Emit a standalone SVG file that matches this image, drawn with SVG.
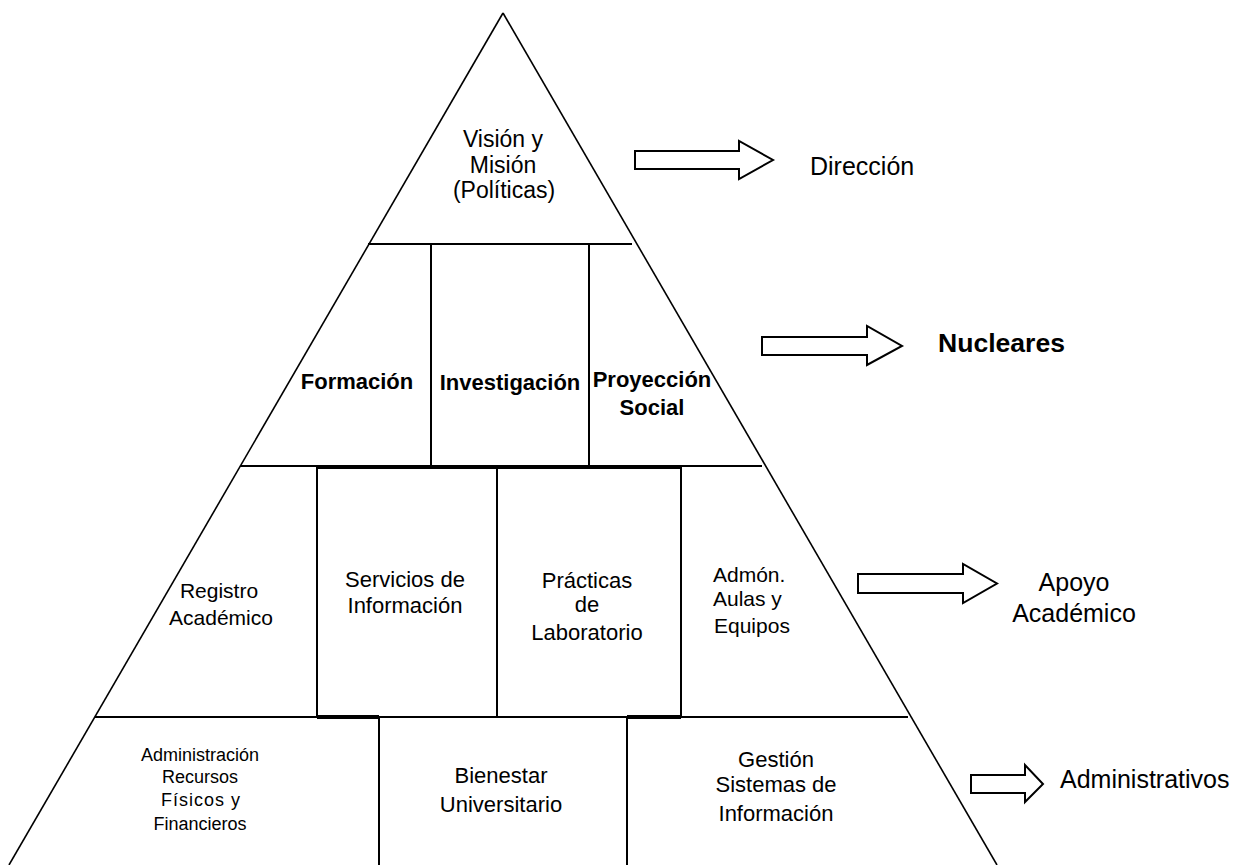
<svg xmlns="http://www.w3.org/2000/svg" width="1247" height="865" viewBox="0 0 1247 865">
<style>
.t{font-family:"Liberation Sans",Arial,sans-serif;fill:#000;text-anchor:middle}
.s{text-anchor:start}
.b{font-weight:bold}
.ln{stroke:#000;stroke-width:2;fill:none}
.side{stroke:#000;stroke-width:1.6;fill:none}
.bold{stroke:#000;stroke-width:4;fill:none}
.arr{fill:#fff;stroke:#000;stroke-width:2;stroke-linejoin:miter}
</style>
<rect width="1247" height="865" fill="#fff"/>
<g id="pyramid">
<line class="side" x1="503" y1="13" x2="9" y2="865"/>
<line class="side" x1="503" y1="13" x2="997" y2="865"/>
<line class="ln" x1="368" y1="244" x2="632" y2="244"/>
<line class="ln" x1="240" y1="466" x2="762" y2="466"/>
<line class="ln" x1="95" y1="717" x2="908" y2="717"/>
<line class="ln" x1="431" y1="244" x2="431" y2="466"/>
<line class="ln" x1="589" y1="244" x2="589" y2="466"/>
<line class="bold" x1="317" y1="467" x2="681" y2="467"/>
<line class="ln" x1="317" y1="466" x2="317" y2="717"/>
<line class="ln" x1="497" y1="466" x2="497" y2="717"/>
<line class="ln" x1="681" y1="466" x2="681" y2="717"/>
<line class="bold" x1="317" y1="717" x2="379" y2="717"/>
<line class="bold" x1="627" y1="717" x2="681" y2="717"/>
<line class="ln" x1="379" y1="717" x2="379" y2="865"/>
<line class="ln" x1="627" y1="717" x2="627" y2="865"/>
</g>
<g id="vision">
<text class="t" font-size="23" x="503" y="147">Visión y</text>
<text class="t" font-size="23" x="503" y="173">Misión</text>
<text class="t" font-size="23" x="504" y="198">(Políticas)</text>
</g>
<g id="formacion"><text class="t b" font-size="22" x="357" y="389">Formación</text></g>
<g id="investigacion"><text class="t b" font-size="22" x="510" y="390">Investigación</text></g>
<g id="proyeccion">
<text class="t b" font-size="22" x="652" y="387">Proyección</text>
<text class="t b" font-size="22" x="652" y="415">Social</text>
</g>
<g id="registro">
<text class="t" font-size="21" x="219" y="598">Registro</text>
<text class="t" font-size="21" x="221" y="625">Académico</text>
</g>
<g id="servicios">
<text class="t" font-size="22" x="405" y="587">Servicios de</text>
<text class="t" font-size="22" x="405" y="613">Información</text>
</g>
<g id="practicas">
<text class="t" font-size="22" x="587" y="588">Prácticas</text>
<text class="t" font-size="22" x="587" y="612">de</text>
<text class="t" font-size="22" x="587" y="640">Laboratorio</text>
</g>
<g id="admon">
<text class="t s" font-size="21" x="713" y="582">Admón.</text>
<text class="t s" font-size="21" x="713" y="606">Aulas y</text>
<text class="t s" font-size="21" x="714" y="633">Equipos</text>
</g>
<g id="administracion">
<text class="t" font-size="18" x="200" y="761">Administración</text>
<text class="t" font-size="18" x="200" y="783">Recursos</text>
<text class="t" font-size="18" x="201" y="806" letter-spacing="1">Físicos y</text>
<text class="t" font-size="18" x="200" y="830">Financieros</text>
</g>
<g id="bienestar">
<text class="t" font-size="22" x="501" y="783">Bienestar</text>
<text class="t" font-size="22" x="501" y="812">Universitario</text>
</g>
<g id="gestion">
<text class="t" font-size="22" x="776" y="767">Gestión</text>
<text class="t" font-size="22" x="776" y="792">Sistemas de</text>
<text class="t" font-size="22" x="776" y="821">Información</text>
</g>
<g id="connectors">
<polygon class="arr" points="635,151 739,151 739,141 773,160 739,179 739,169 635,169"/>
<polygon class="arr" points="762,337 867,337 867,326 902,346 867,365 867,355 762,355"/>
<polygon class="arr" points="858,574 963,574 963,564 997,583.5 963,603 963,593 858,593"/>
<polygon class="arr" points="971,775 1025,775 1025,765 1043,784 1025,802 1025,793 971,793"/>
</g>
<g id="direccion"><text class="t s" font-size="25" x="810" y="175">Dirección</text></g>
<g id="nucleares"><text class="t s b" font-size="25" x="938" y="352" textLength="127" lengthAdjust="spacingAndGlyphs">Nucleares</text></g>
<g id="apoyo">
<text class="t" font-size="25" x="1074" y="591">Apoyo</text>
<text class="t" font-size="25" x="1074" y="622">Académico</text>
</g>
<g id="administrativos"><text class="t s" font-size="25" x="1060" y="788">Administrativos</text></g>
</svg>
